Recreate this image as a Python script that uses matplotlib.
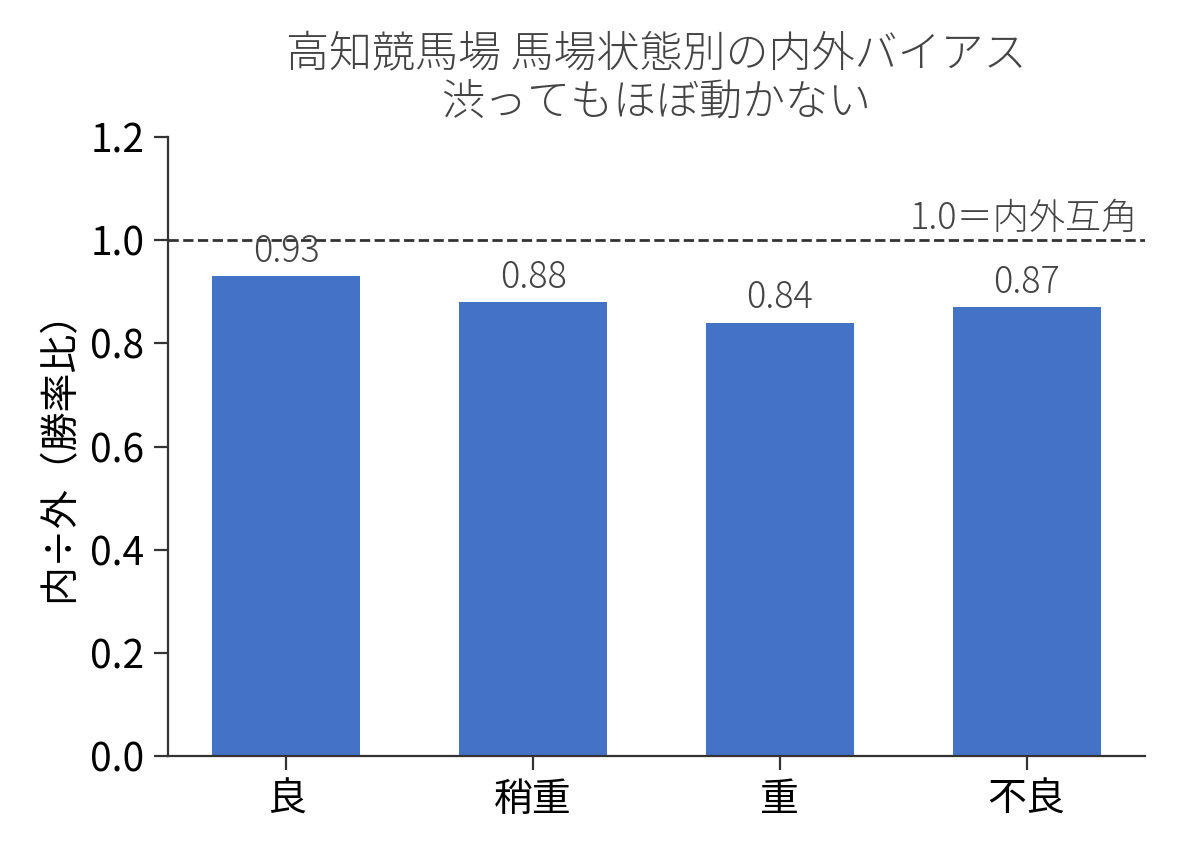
import matplotlib
matplotlib.use("Agg")
import matplotlib.pyplot as plt

plt.rcParams['font.family'] = ['Noto Sans CJK JP', 'DejaVu Sans']

# 馬場状態ごとの内外勝率比
conditions = ['良', '稍重', '重', '不良']
ratios = [0.93, 0.88, 0.84, 0.87]
yticks = [0.0, 0.2, 0.4, 0.6, 0.8, 1.0, 1.2]

title = '高知競馬場 馬場状態別の内外バイアス\n渋ってもほぼ動かない'
ylabel = '内÷外（勝率比）'
ref_label = '1.0＝内外互角'


def main():
    fig = plt.figure(figsize=(5.94, 4.29), dpi=200)
    ax = fig.add_axes([0.1414, 0.1189, 0.8224, 0.7214])

    x = range(len(conditions))
    bars = ax.bar(x, ratios, width=0.6, color='#4472C4', zorder=2)

    # 基準線
    ax.axhline(1.0, color='#333333', linestyle='--', linewidth=1.0, zorder=3)
    ax.text(3.45, 1.005, ref_label, ha='right', va='bottom',
            fontsize=13, color='#444444', fontweight='light')

    # 値ラベル
    for bar, v in zip(bars, ratios):
        ax.annotate(f'{v:.2f}', (bar.get_x() + bar.get_width() / 2, v),
                    xytext=(0, 2), textcoords='offset points',
                    ha='center', va='bottom', fontsize=13,
                    color='#444444', fontweight='light')

    ax.set_ylim(0, 1.2)
    ax.set_yticks(yticks)
    ax.set_yticklabels([f'{t:.1f}' for t in yticks])
    ax.set_xticks(list(x))
    ax.set_xticklabels(conditions)
    ax.tick_params(axis='both', labelsize=14, colors='black', length=5)
    ax.tick_params(axis='both', color='#333333')

    ax.set_ylabel(ylabel, fontsize=14)
    ax.set_title(title, fontsize=15.5, color='#444444', fontweight='light',
                 pad=8, linespacing=1.1)

    for side in ['top', 'right']:
        ax.spines[side].set_visible(False)
    for side in ['left', 'bottom']:
        ax.spines[side].set_color('#333333')

    fig.savefig('out.png', dpi=200)


if __name__ == "__main__":
    main()
